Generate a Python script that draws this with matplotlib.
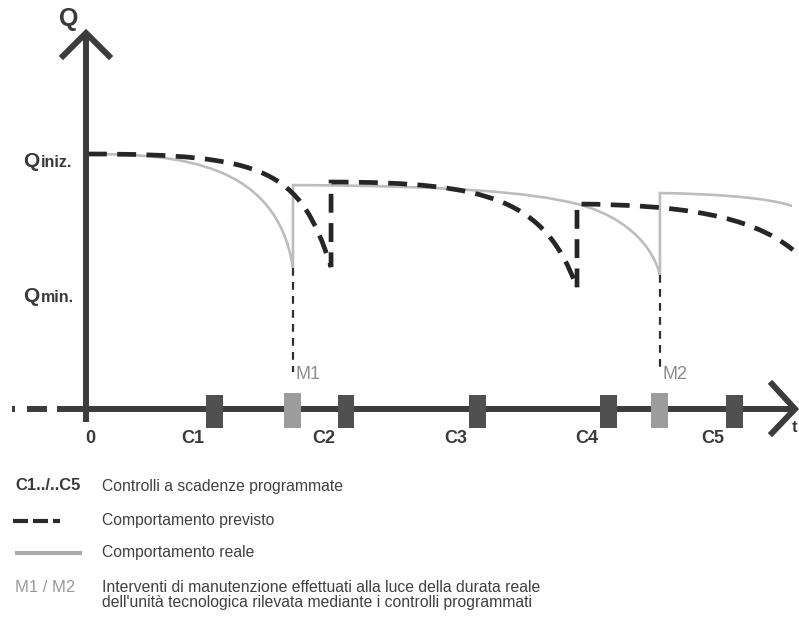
import matplotlib
matplotlib.use("Agg")
import matplotlib.pyplot as plt
from matplotlib.path import Path
from matplotlib.patches import PathPatch
from matplotlib import font_manager

# ---------------- data (t in control-interval units, Q normalised: Q_iniz = 1) ----------------
controls_t = [0.99, 2.00, 3.01, 4.02, 4.99]
controls_lbl = ["C1", "C2", "C3", "C4", "C5"]
maint_t = [1.592, 4.415]
maint_lbl = ["M1", "M2"]
maint_q_top = [0.553, 0.525]     # real curve minimum where intervention happens
maint_q_bottom = 0.145
Q_iniz = 1.0
Q_min = 0.47

# expected behaviour (cubic Bezier control points per segment)
exp_s1_t = [0.015, 1.392, 1.646, 1.885]
exp_s1_q = [1.000, 1.000, 0.937, 0.557]
exp_s2_t = [1.885, 3.108, 3.531, 3.777]
exp_s2_q = [0.890, 0.890, 0.820, 0.475]
exp_s3_t = [3.777, 4.569, 5.108, 5.438]
exp_s3_q = [0.804, 0.800, 0.761, 0.624]

# real behaviour
real_s1_t = [0.015, 0.723, 1.469, 1.592]
real_s1_q = [1.000, 1.000, 0.965, 0.553]
real_s2_t = [1.592, 2.800, 3.415, 3.777]
real_s2_q = [0.878, 0.875, 0.851, 0.804]
real_s3_t = [3.777, 4.031, 4.338, 4.415]
real_s3_q = [0.804, 0.773, 0.682, 0.525]
real_s4_t = [4.415, 4.877, 5.262, 5.431]
real_s4_q = [0.847, 0.843, 0.827, 0.796]

legend_keys = ["C1../..C5", "", "", "M1 / M2"]
legend_texts = ["Controlli a scadenze programmate",
                "Comportamento previsto",
                "Comportamento reale",
                "Interventi di manutenzione effettuati alla luce della durata reale",
                "dell'unità tecnologica rilevata mediante i controlli programmati"]

# ---------------- fonts ----------------
names = {f.name for f in font_manager.fontManager.ttflist}
NARROW = "Liberation Sans Narrow" if "Liberation Sans Narrow" in names else "Liberation Sans"
SANS = "Liberation Sans" if "Liberation Sans" in names else "DejaVu Sans"

DARK = "#3a3a3a"
AXC = "#3c3c3c"
GREY = "#bdbdbd"
CBOX = "#505050"
MBOX = "#9c9c9c"
MTXT = "#8c8c8c"

# ---------------- figure ----------------
X0, SX, Y0, SY = 86.0, 130.0, 409.0, 255.0
fig = plt.figure(figsize=(7.99, 6.18), dpi=100)
ax = fig.add_axes([0, 0, 1, 1])
ax.set_xlim((0 - X0) / SX, (799 - X0) / SX)
ax.set_ylim((Y0 - 618) / SY, Y0 / SY)
ax.axis("off")


def P(x, y):
    """layout helper: pixel position -> data coordinates"""
    return (x - X0) / SX, (Y0 - y) / SY


def bez_path(segments, joins):
    verts, codes = [], []
    for i, (ts, qs) in enumerate(segments):
        if i == 0:
            verts.append((ts[0], qs[0])); codes.append(Path.MOVETO)
        elif joins[i]:
            verts.append((ts[0], qs[0])); codes.append(Path.LINETO)
        for k in range(1, 4):
            verts.append((ts[k], qs[k])); codes.append(Path.CURVE4)
    return Path(verts, codes)


real_path = bez_path([(real_s1_t, real_s1_q), (real_s2_t, real_s2_q),
                      (real_s3_t, real_s3_q), (real_s4_t, real_s4_q)],
                     [False, True, False, True])
exp_path = bez_path([(exp_s1_t, exp_s1_q), (exp_s2_t, exp_s2_q), (exp_s3_t, exp_s3_q)],
                    [False, True, True])

ax.add_patch(PathPatch(real_path, fill=False, edgecolor=GREY, lw=1.9,
                       capstyle="butt", joinstyle="miter", zorder=2))
ax.add_patch(PathPatch(exp_path, fill=False, edgecolor="#262626", lw=3.4,
                       linestyle=(0, (4.0, 2.2)), capstyle="butt", joinstyle="miter", zorder=3))

# maintenance drop lines
for t, q in zip(maint_t, maint_q_top):
    ax.plot([t, t], [q, maint_q_bottom], color="#2e2e2e", lw=1.6,
            linestyle=(0, (3.5, 2.8)), solid_capstyle="butt", dash_capstyle="butt", zorder=3)

# axes
ax.plot([0, 0], [P(0, 422)[1], P(0, 34)[1]], color=AXC, lw=4.3, solid_capstyle="butt", zorder=4)
ax.plot(*zip(P(63, 56), P(86, 33), P(109, 56)), color=AXC, lw=4.3, solid_joinstyle="miter", zorder=4)
ax.plot([P(57, 0)[0], P(793, 0)[0]], [0, 0], color=AXC, lw=4.3, solid_capstyle="butt", zorder=4)
ax.plot(*zip(P(772, 384), P(795, 409), P(772, 433)), color=AXC, lw=4.3, solid_joinstyle="miter", zorder=4)
ax.plot([P(12, 0)[0], P(15, 0)[0]], [0, 0], color=AXC, lw=4.3, solid_capstyle="butt", zorder=4)
ax.plot([P(27, 0)[0], P(47, 0)[0]], [0, 0], color=AXC, lw=4.3, solid_capstyle="butt", zorder=4)

# control & maintenance boxes
bw = 17 / SX
ax.bar(controls_t, 33 / SY, width=bw, bottom=P(0, 428)[1], color=CBOX, zorder=5)
ax.bar(maint_t, 35 / SY, width=bw, bottom=P(0, 428)[1], color=MBOX, zorder=5)

# axis labels
ax.text(*P(69, 19), "Q", fontsize=18, fontweight="bold", family=SANS, color=DARK,
        ha="center", va="center")
ax.text(*P(792, 427), "t", fontsize=12, fontweight="bold", family=SANS, color=DARK,
        ha="left", va="center")
ax.text(*P(90, 438), "0", fontsize=13, fontweight="bold", family=SANS, color=DARK,
        ha="center", va="center")
for t, lbl in zip(controls_t, controls_lbl):
    ax.text(t - 22 / SX, P(0, 438)[1], lbl, fontsize=13, fontweight="bold", family=SANS,
            color=DARK, ha="center", va="center")
for t, lbl in zip(maint_t, maint_lbl):
    ax.text(t + 3 / SX, P(0, 374)[1], lbl, fontsize=13, family=NARROW, color=MTXT,
            ha="left", va="center")

# Q level labels
for q, sub in [(Q_iniz, "iniz."), (Q_min, "min.")]:
    xq, _ = P(23, 0)
    yb = q - 13 / SY
    ax.text(xq, yb, "Q", fontsize=15, fontweight="bold", family=SANS, color=DARK,
            ha="left", va="baseline")
    ax.text(P(41, 0)[0], yb, sub, fontsize=11.5, fontweight="bold", family=SANS, color=DARK,
            ha="left", va="baseline")

# legend
ax.text(*P(15, 486), legend_keys[0], fontsize=12, fontweight="bold", family=SANS,
        color=DARK, ha="left", va="center")
ax.text(*P(15, 587), legend_keys[3], fontsize=12, family=SANS, color="#9a9a9a",
        ha="left", va="center")
for (a, b) in [(13, 28), (33, 48), (53, 60)]:
    ax.plot([P(a, 0)[0], P(b, 0)[0]], [P(0, 521)[1]] * 2, color="#2a2a2a", lw=3.0,
            solid_capstyle="butt")
ax.plot([P(15, 0)[0], P(82, 0)[0]], [P(0, 553)[1]] * 2, color="#ababab", lw=3.0,
        solid_capstyle="butt")
for y, txt in zip([486, 520, 552, 587, 603], legend_texts):
    ax.text(*P(102, y), txt, fontsize=11.3, family=NARROW, color="#404040", ha="left",
            va="center")

fig.savefig("out.png", dpi=100, facecolor="white")
